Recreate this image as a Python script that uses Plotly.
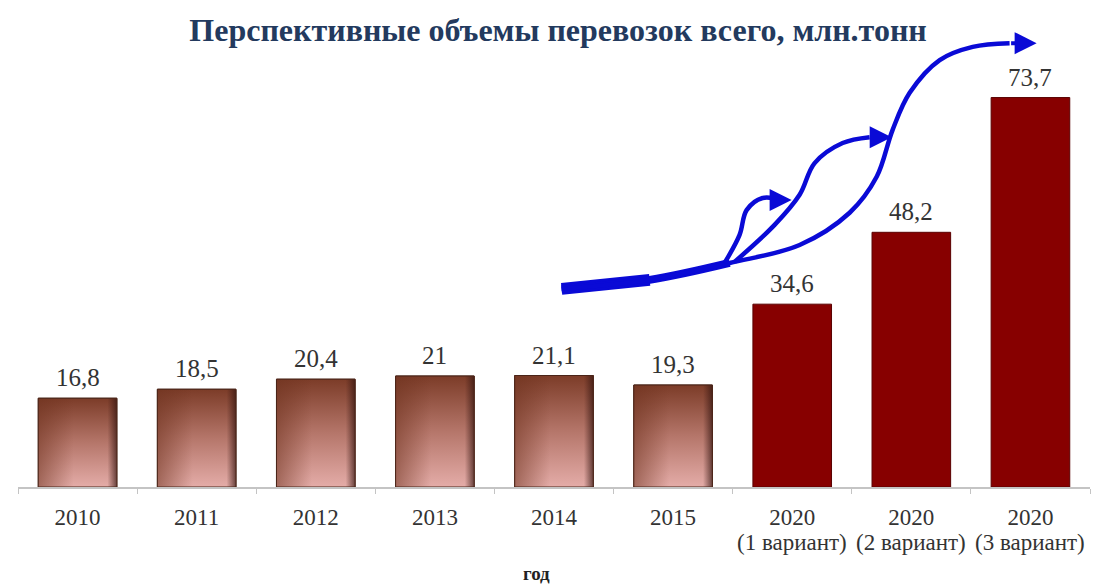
import plotly.graph_objects as go

# Перевозки, млн. тонн
years = ["2010", "2011", "2012", "2013", "2014", "2015", "2020", "2020", "2020"]
variants = ["", "", "", "", "", "", "(1 вариант)", "(2 вариант)", "(3 вариант)"]
volumes = [16.8, 18.5, 20.4, 21, 21.1, 19.3, 34.6, 48.2, 73.7]
n_actual = 6  # фактические годы, дальше — прогнозные варианты

title_text = "Перспективные объемы перевозок всего, млн.тонн"
axis_title = "год"

BAR_W = 0.66
SERIF = "Liberation Serif, Times New Roman, serif"
BLUE = "#0A0AD6"
PLOT_H = 587 - 22 - 100

idx = list(range(len(volumes)))
colors = ["#A0604C"] * n_actual + ["#870000"] * (len(volumes) - n_actual)
lines = ["#4A2418"] * n_actual + ["#5A0000"] * (len(volumes) - n_actual)

fig = go.Figure()
fig.add_trace(go.Bar(
    x=idx, y=volumes, width=BAR_W,
    marker=dict(color=colors, line=dict(color=lines, width=1)),
    hoverinfo="skip", showlegend=False,
))

# градиентная заливка фактических столбцов
for i in range(n_actual):
    v = volumes[i]
    x0, x1 = i - BAR_W / 2, i + BAR_W / 2
    xs = [x0, x1, x1, x0, x0]
    ys = [0, 0, v, v, 0]
    fig.add_trace(go.Scatter(
        x=xs, y=ys, mode="lines", fill="toself",
        line=dict(width=0),
        fillgradient=dict(type="vertical",
                          colorscale=[[0, "#E4ACA8"], [0.5, "#B5766A"], [1, "#7C3C28"]]),
        hoverinfo="skip", showlegend=False,
    ))
    fig.add_trace(go.Scatter(
        x=xs, y=ys, mode="lines", fill="toself",
        line=dict(width=1, color="#4A2418"),
        fillgradient=dict(type="horizontal",
                          colorscale=[[0, "rgba(110,50,30,0.55)"],
                                      [0.45, "rgba(110,50,30,0)"],
                                      [0.88, "rgba(60,25,20,0)"],
                                      [1, "rgba(50,20,15,0.7)"]]),
        hoverinfo="skip", showlegend=False,
    ))

# подписи значений над столбцами
for i, v in enumerate(volumes):
    fig.add_annotation(
        x=i, y=v, text=f"{v:g}".replace(".", ","),
        showarrow=False, yanchor="bottom", yshift=5,
        font=dict(family=SERIF, size=25, color="#333333"),
    )

# вторая строка подписей прогнозных вариантов
for i, t in enumerate(variants):
    if t:
        fig.add_annotation(
            x=i, y=-55 / PLOT_H, xref="x", yref="paper", text=t,
            showarrow=False, yanchor="middle",
            font=dict(family=SERIF, size=23, color="#333333"),
        )

# стрелки роста
main_x = [4.064, 4.803, 5.474, 6.062, 6.482, 6.709, 6.843, 6.986, 7.238, 7.515, 7.825]
main_y = [37.5, 39.2, 42.4, 45.8, 51.9, 58.7, 67.6, 74.6, 80.8, 83.3, 84.0]
a_x = [5.432, 5.558, 5.617, 5.751, 5.911]
a_y = [42.4, 47.7, 52.4, 54.7, 54.3]
b_x = [5.516, 5.852, 6.062, 6.188, 6.423, 6.650]
b_y = [42.6, 49.6, 55.3, 61.3, 65.1, 66.2]

for xs, ys, w in [(main_x[:2], main_y[:2], 12), (main_x[:3], main_y[:3], 8),
                  (main_x, main_y, 4.5), (a_x, a_y, 4.5), (b_x, b_y, 4.5)]:
    fig.add_trace(go.Scatter(
        x=xs, y=ys, mode="lines",
        line=dict(color=BLUE, width=w, shape="spline", smoothing=1.0),
        hoverinfo="skip", showlegend=False,
    ))

for xs, ys, tip in [(main_x, main_y, 8.052), (a_x, a_y, 5.995), (b_x, b_y, 6.835)]:
    fig.add_annotation(
        x=tip, y=ys[-1], ax=xs[-1], ay=ys[-1], xref="x", yref="y",
        axref="x", ayref="y", text="", showarrow=True,
        arrowhead=2, arrowsize=1.1, arrowwidth=4, arrowcolor=BLUE,
    )

fig.add_annotation(
    x=0.484, y=-86 / PLOT_H, xref="paper", yref="paper", text=f"<b>{axis_title}</b>",
    showarrow=False, yanchor="middle",
    font=dict(family=SERIF, size=19, color="#222222"),
)

fig.update_layout(
    width=1105, height=587,
    margin=dict(l=18, r=15, t=22, b=100),
    paper_bgcolor="white", plot_bgcolor="white",
    title=dict(text=f"<b>{title_text}</b>", x=0.505, xanchor="center",
               y=1 - 30 / 587, yanchor="middle", yref="container",
               font=dict(family=SERIF, size=32, color="#233A5E")),
    bargap=0.34,
    xaxis=dict(
        range=[-0.5, len(volumes) - 0.5],
        tickmode="array", tickvals=idx, ticktext=years,
        ticks="", ticklabelstandoff=9,
        tickfont=dict(family=SERIF, size=23, color="#333333"),
        showline=True, linecolor="#C4C4C4", linewidth=1.5,
        showgrid=False, zeroline=False,
        minor=dict(tickmode="array", tickvals=[i - 0.5 for i in range(len(volumes) + 1)],
                   ticks="outside", ticklen=5, tickcolor="#C4C4C4", tickwidth=1),
    ),
    yaxis=dict(range=[0, 88], visible=False, showgrid=False, zeroline=False),
)

fig.write_html("out.html")
